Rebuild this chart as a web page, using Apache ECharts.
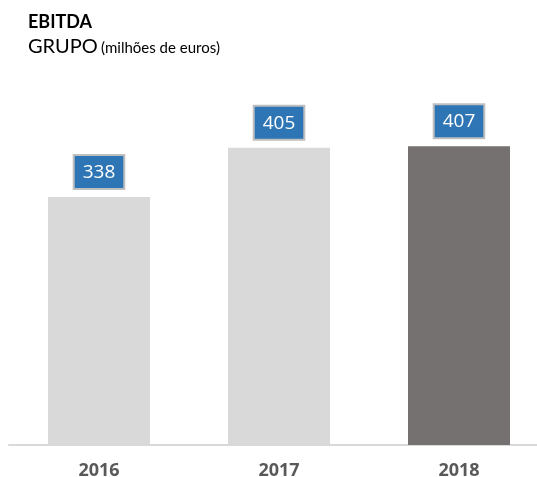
<!DOCTYPE html>
<html lang="pt">
<head>
    <meta charset="UTF-8">
    <title>EBITDA</title>
    <script src="https://cdn.jsdelivr.net/npm/echarts@6/dist/echarts.min.js"></script>
    <style>
      html, body { margin: 0; padding: 0; background: #fff; }
    </style>
</head>
<body>
<div id="main" style="width: 537px;height: 477px"></div>
<script type="text/javascript">
  var years = ['2016', '2017', '2018'];
  var ebitda = [338, 405, 407];
  var barColors = ['#d9d9d9', '#d9d9d9', '#767171'];

  var myChart = echarts.init(document.getElementById('main'));

  var option = {
    animation: false,
    graphic: [{
      type: 'text',
      left: 28,
      top: 13,
      style: { text: 'EBITDA', fontFamily: 'Lato', fontWeight: 'bold', fontSize: 18, fill: '#000' }
    }, {
      type: 'text',
      left: 28,
      top: 37,
      style: {
        text: '{a|GRUPO} {b|(milhões de euros)}',
        rich: {
          a: { fontFamily: 'Lato', fontSize: 20, fill: '#000', fontWeight: 'normal' },
          b: { fontFamily: 'Lato', fontSize: 15, fill: '#000', fontWeight: 'normal', padding: [3, 0, 0, 0] }
        }
      }
    }],
    grid: { left: 9, width: 540, top: 100, bottom: 32, outerBoundsMode: 'none', containLabel: false },
    xAxis: {
      type: 'category',
      data: years,
      axisLine: { lineStyle: { color: '#d9d9d9', width: 2 } },
      axisTick: { show: false },
      axisLabel: {
        margin: 17,
        fontFamily: 'Open Sans',
        fontWeight: 'bold',
        fontSize: 18,
        color: '#595959'
      }
    },
    yAxis: {
      type: 'value',
      min: 0,
      max: 470,
      show: false,
      splitLine: { show: false }
    },
    series: [{
      type: 'bar',
      barWidth: 102,
      data: ebitda.map(function(v, i) {
        return { value: v, itemStyle: { color: barColors[i] } };
      }),
      label: {
        show: true,
        position: 'top',
        distance: 9,
        fontFamily: 'Open Sans',
        fontSize: 19,
        color: '#fff',
        backgroundColor: '#2e75b6',
        borderColor: '#bfbfbf',
        borderWidth: 2,
        padding: [7, 8, 6, 8]
      }
    }]
  };
  myChart.setOption(option);
</script>
</body>
</html>
